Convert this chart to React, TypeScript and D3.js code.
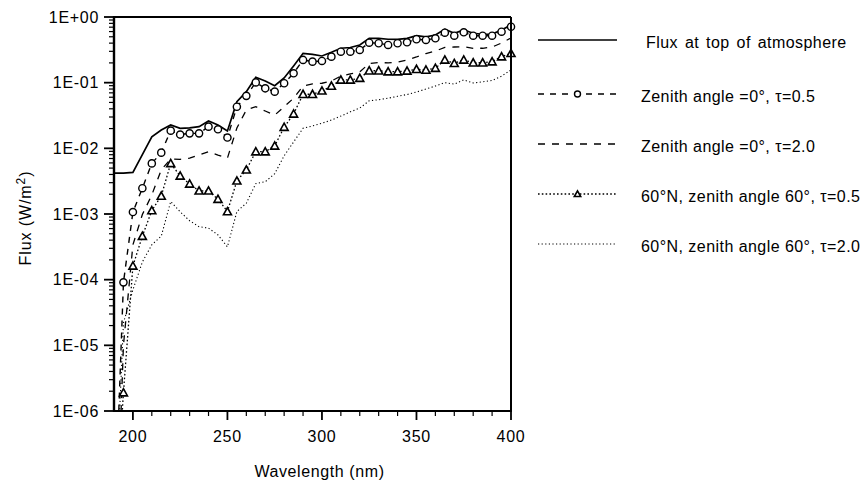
import React from 'react';
import * as d3 from 'd3';

const wavelengths = [190, 195, 200, 205, 210, 215, 220, 225, 230, 235, 240, 245, 250, 255, 260, 265, 270, 275, 280, 285, 290, 295, 300, 305, 310, 315, 320, 325, 330, 335, 340, 345, 350, 355, 360, 365, 370, 375, 380, 385, 390, 395, 400];

const fluxTOA = [4.2e-3, 4.2e-3, 4.3e-3, 8.0e-3, 1.5e-2, 1.9e-2, 2.27e-2, 2.02e-2, 2.05e-2, 2.14e-2, 2.61e-2, 2.27e-2, 1.84e-2, 5.14e-2, 7.3e-2, 0.121, 0.106, 0.09, 0.118, 0.18, 0.28, 0.27, 0.255, 0.29, 0.334, 0.343, 0.375, 0.474, 0.474, 0.458, 0.455, 0.474, 0.519, 0.5, 0.532, 0.65, 0.565, 0.634, 0.565, 0.546, 0.55, 0.634, 0.755];

const zen0Tau05 = [1e-8, 9.1e-5, 1.07e-3, 2.47e-3, 5.9e-3, 8.6e-3, 1.86e-2, 1.62e-2, 1.69e-2, 1.69e-2, 2.14e-2, 1.95e-2, 1.46e-2, 4.3e-2, 6.3e-2, 0.101, 0.082, 0.073, 0.098, 0.139, 0.222, 0.209, 0.214, 0.249, 0.296, 0.296, 0.315, 0.406, 0.398, 0.375, 0.398, 0.412, 0.458, 0.447, 0.474, 0.577, 0.519, 0.585, 0.519, 0.519, 0.519, 0.597, 0.711];

const zen0Tau20 = [1e-9, 1.0e-5, 3.4e-4, 9.8e-4, 1.95e-3, 4.7e-3, 6.9e-3, 6.8e-3, 7.1e-3, 7.9e-3, 8.9e-3, 7.9e-3, 7.1e-3, 2.04e-2, 3.84e-2, 4.3e-2, 3.7e-2, 3.2e-2, 4.3e-2, 5.8e-2, 8.9e-2, 9.6e-2, 9.8e-2, 0.106, 0.126, 0.136, 0.146, 0.196, 0.203, 0.2, 0.206, 0.222, 0.246, 0.278, 0.303, 0.344, 0.349, 0.353, 0.334, 0.334, 0.349, 0.402, 0.479];

const n60Tau05 = [1e-8, 1.9e-6, 1.62e-4, 4.6e-4, 1.13e-3, 1.88e-3, 5.9e-3, 3.8e-3, 2.87e-3, 2.25e-3, 2.25e-3, 1.68e-3, 1.09e-3, 3.2e-3, 4.7e-3, 8.9e-3, 8.9e-3, 1.09e-2, 2.1e-2, 3.34e-2, 6.66e-2, 6.66e-2, 7.5e-2, 8.9e-2, 0.11, 0.11, 0.117, 0.152, 0.152, 0.147, 0.147, 0.151, 0.16, 0.156, 0.166, 0.222, 0.197, 0.222, 0.201, 0.201, 0.209, 0.249, 0.28];

const n60Tau20 = [1e-8, 2.2e-5, 7e-5, 1.86e-4, 3.4e-4, 4.6e-4, 1.55e-3, 1.08e-3, 7.9e-4, 6.4e-4, 6.1e-4, 4.8e-4, 3.16e-4, 1.09e-3, 1.46e-3, 2.9e-3, 3.1e-3, 4.1e-3, 7.7e-3, 1.25e-2, 2.02e-2, 2.19e-2, 2.41e-2, 2.7e-2, 3.1e-2, 3.6e-2, 4.1e-2, 5.3e-2, 5.5e-2, 5.8e-2, 6.2e-2, 6.6e-2, 7.2e-2, 8.0e-2, 8.9e-2, 0.1, 0.095, 0.11, 0.099, 0.103, 0.108, 0.126, 0.156];

const xTicks = [200, 250, 300, 350, 400];
const xMinorTicks = [210, 220, 230, 240, 260, 270, 280, 290, 310, 320, 330, 340, 360, 370, 380, 390];
const yTickExps = [0, -1, -2, -3, -4, -5, -6];

const legendLabels = [
  'Flux at top of atmosphere',
  'Zenith angle =0°, τ=0.5',
  'Zenith angle =0°, τ=2.0',
  '60°N, zenith angle 60°, τ=0.5',
  '60°N, zenith angle 60°, τ=2.0',
];

const FONT = "'Liberation Sans', Arial, Helvetica, sans-serif";

type SeriesStyle = { dash: string; width: number; marker: 'none' | 'circle' | 'triangle' };
const styles: SeriesStyle[] = [
  { dash: 'none', width: 1.7, marker: 'none' },
  { dash: '6,6', width: 1.4, marker: 'circle' },
  { dash: '7,7', width: 1.3, marker: 'none' },
  { dash: '1.6,2.2', width: 1.3, marker: 'triangle' },
  { dash: '1.2,2.4', width: 1.1, marker: 'none' },
];

function fmtExp(e: number) {
  const s = e >= 0 ? '+' : '-';
  const a = Math.abs(e);
  return '1E' + s + (a < 10 ? '0' + a : '' + a);
}

function Marker({ kind, cx, cy, small }: { kind: string; cx: number; cy: number; small?: boolean }) {
  if (kind === 'circle') {
    return <circle cx={cx} cy={cy} r={small ? 3 : 3.6} fill="#fff" stroke="#000" strokeWidth={1.4} />;
  }
  if (kind === 'triangle') {
    const s = small ? 3.2 : 4;
    const d = `M${cx},${cy - s} L${cx + s},${cy + s * 0.8} L${cx - s},${cy + s * 0.8} Z`;
    return <path d={d} fill="#fff" stroke="#000" strokeWidth={1.6} strokeLinejoin="miter" />;
  }
  return null;
}

export default function App() {
  const W = 868, H = 481;
  const left = 114, right = 511, top = 17, bottom = 411;
  const x = d3.scaleLinear().domain([190, 400]).range([left, right]);
  const y = d3.scaleLog().domain([1e-6, 1]).range([bottom, top]);
  const series = [fluxTOA, zen0Tau05, zen0Tau20, n60Tau05, n60Tau20];
  const line = (vals: number[]) =>
    d3.line<number>().x((_, i) => x(wavelengths[i])).y((d) => y(d))(vals) || '';

  const yMinor: number[] = [];
  for (let e = -6; e < 0; e++) {
    for (let k = 2; k <= 9; k++) yMinor.push(k * Math.pow(10, e));
  }

  const legendY = [42, 96, 146, 196, 246];
  const lx0 = 538, lx1 = 617, ltx = 641;

  return (
    <svg width={W} height={H} style={{ position: 'absolute', left: 0, top: 0, background: '#fff' }}
      fontFamily={FONT}>
      <defs>
        <clipPath id="plotclip">
          <rect x={left} y={top - 6} width={right - left + 6} height={bottom - top + 6} />
        </clipPath>
      </defs>
      <rect x={0} y={0} width={W} height={H} fill="#fff" />

      {/* series */}
      <g clipPath="url(#plotclip)">
        {series.map((vals, si) => (
          <path key={si} d={line(vals)} fill="none" stroke="#000" strokeWidth={styles[si].width}
            strokeDasharray={styles[si].dash === 'none' ? undefined : styles[si].dash} />
        ))}
        {series.map((vals, si) =>
          styles[si].marker === 'none' ? null :
            vals.map((v, i) => v >= 1e-6 ? (
              <Marker key={si + '-' + i} kind={styles[si].marker} cx={x(wavelengths[i])} cy={y(v)} />
            ) : null)
        )}
      </g>

      {/* frame */}
      <line x1={left} x2={right} y1={top} y2={top} stroke="#000" strokeWidth={2} />
      <line x1={right} x2={right} y1={top} y2={bottom} stroke="#000" strokeWidth={2} />
      <line x1={left} x2={left} y1={top - 1} y2={bottom + 1} stroke="#000" strokeWidth={2.4} />
      <line x1={left - 1} x2={right + 1} y1={bottom} y2={bottom} stroke="#000" strokeWidth={2} />

      {/* y ticks */}
      {yTickExps.map((e) => {
        const yy = y(Math.pow(10, e));
        return (
          <g key={'y' + e}>
            <line x1={left - 10} x2={left} y1={yy} y2={yy} stroke="#000" strokeWidth={1.8} />
            <text x={99} y={yy} dy="0.35em" textAnchor="end" fontSize={16} letterSpacing={0.7}>{fmtExp(e)}</text>
          </g>
        );
      })}
      {yMinor.map((v, i) => (
        <line key={'ym' + i} x1={left - 5} x2={left} y1={y(v)} y2={y(v)} stroke="#000" strokeWidth={1.2} />
      ))}

      {/* x ticks */}
      {xTicks.map((t) => (
        <g key={'x' + t}>
          <line x1={x(t)} x2={x(t)} y1={bottom} y2={bottom + 9} stroke="#000" strokeWidth={1.8} />
          <text x={x(t)} y={bottom + 31} textAnchor="middle" fontSize={16} letterSpacing={0.7}>{t}</text>
        </g>
      ))}
      {xMinorTicks.map((t) => (
        <line key={'xm' + t} x1={x(t)} x2={x(t)} y1={bottom} y2={bottom + 5} stroke="#000" strokeWidth={1.2} />
      ))}

      {/* axis titles */}
      <text x={(left + right) / 2 + 7} y={477} textAnchor="middle" fontSize={16} letterSpacing={0.6}>Wavelength (nm)</text>
      <text transform={`translate(31, ${(top + bottom) / 2 + 4}) rotate(-90)`} textAnchor="middle" fontSize={16} letterSpacing={0.9}>
        Flux (W/m<tspan dy={-6} fontSize={12}>2</tspan><tspan dy={6}>)</tspan>
      </text>

      {/* legend */}
      {legendLabels.map((lab, i) => {
        const ly = legendY[i];
        const st = styles[i];
        return (
          <g key={'lg' + i}>
            <line x1={lx0} x2={lx1} y1={ly - 2} y2={ly - 2} stroke="#000" strokeWidth={st.width}
              strokeDasharray={st.dash === 'none' ? undefined : st.dash} />
            {st.marker !== 'none' ? <Marker kind={st.marker} cx={(lx0 + lx1) / 2} cy={ly - 2} small /> : null}
            <text x={i === 0 ? ltx + 5 : ltx} y={ly} dy="0.35em" fontSize={16}
              letterSpacing={0.45} wordSpacing={i === 0 ? 2 : 0}>{lab}</text>
          </g>
        );
      })}
    </svg>
  );
}
